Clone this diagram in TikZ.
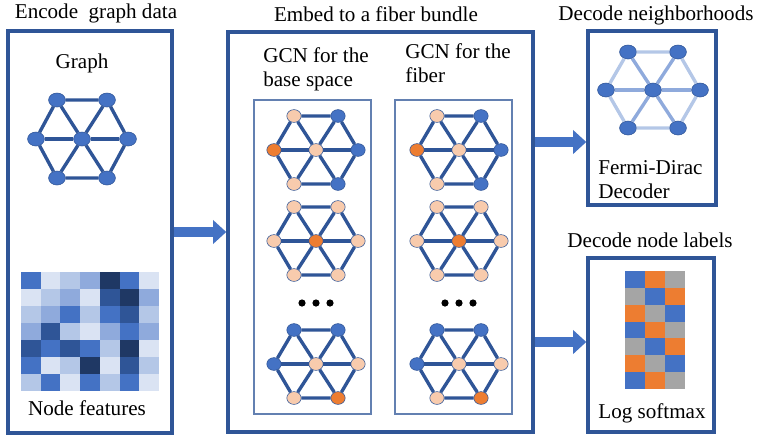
\documentclass[tikz,border=0pt]{standalone}
\usepackage{fontspec}
\setmainfont{Liberation Serif}
\usepackage{tikz}
\usetikzlibrary{shapes.geometric, arrows.meta}
\definecolor{frameblue}{HTML}{2F5597}
\definecolor{nodeblue}{HTML}{4472C4}
\definecolor{peach}{HTML}{F8CBAD}
\definecolor{nodeorange}{HTML}{ED7D31}
\definecolor{labgray}{HTML}{A5A5A5}
\definecolor{hA}{HTML}{DAE3F3}
\definecolor{hB}{HTML}{B4C7E7}
\definecolor{hC}{HTML}{8FAADC}
\definecolor{hD}{HTML}{4472C4}
\definecolor{hE}{HTML}{2F5597}
\definecolor{hF}{HTML}{1F3864}

\begin{document}
\begin{tikzpicture}[
    x=0.025cm, y=-0.025cm,
    every node/.style={font=\fontsize{15}{17}\selectfont},
    panel/.style={draw=frameblue, line width=2.4pt},
    subpanel/.style={draw=frameblue!75, line width=0.8pt},
    gnode/.style={ellipse, draw=frameblue, line width=0.4pt, inner sep=0, minimum width=0.36cm, minimum height=0.32cm},
    bignode/.style={gnode, fill=nodeblue, minimum width=0.42cm, minimum height=0.35cm},
    gedge/.style={draw=frameblue, line width=2.4pt},
    fdedge/.style={line width=2.4pt},
    bigarrow/.style={nodeblue, line width=0.25cm, -{Triangle[length=0.33cm, width=0.58cm]}},
    caption/.style={inner sep=0, align=left, anchor=north west}
]
    \useasboundingbox (0,0) rectangle (758,437);

    % Encode panel (left)
    \node[panel, minimum width=4.1cm, minimum height=10.05cm] (enc) at (90,232) {};
    \node (enctitle) at (96,13) {Encode\ \ graph data};
    \node (graphlbl) at (82,63) {Graph};
    \node[bignode] (in-tl) at (57,100) {};
    \node[bignode] (in-tr) at (107,100) {};
    \node[bignode] (in-l) at (36,139) {};
    \node[bignode] (in-c) at (82,139) {};
    \node[bignode] (in-r) at (128,139) {};
    \node[bignode] (in-bl) at (57,178) {};
    \node[bignode] (in-br) at (107,178) {};
    \draw[gedge] (in-tl) -- (in-tr) -- (in-r) -- (in-br) -- (in-bl) -- (in-l) -- (in-tl);
    \draw[gedge] (in-l) -- (in-c) -- (in-r);
    \draw[gedge] (in-tl) -- (in-c) -- (in-br);
    \draw[gedge] (in-tr) -- (in-c) -- (in-bl);

    % feature matrix
    \foreach \row [count=\j from 0] in {
        {hD,hA,hB,hC,hF,hD,hA},
        {hA,hB,hC,hA,hE,hF,hC},
        {hB,hC,hD,hB,hD,hE,hB},
        {hC,hE,hB,hA,hC,hD,hC},
        {hE,hD,hE,hD,hB,hF,hA},
        {hD,hA,hB,hF,hA,hE,hB},
        {hB,hD,hA,hD,hB,hD,hA}}
        \foreach \c [count=\i from 0] in \row
            \fill[\c] (21+\i*19.71,272+\j*17) rectangle +(19.9,17.3);
    \node (featlbl) at (87,408) {Node features};

    % Embed panel (middle)
    \node[panel, minimum width=7.625cm, minimum height=10cm] (emb) at (380.5,232) {};
    \node (embtitle) at (376,14) {Embed to a fiber bundle};
    \node[caption] (baselbl) at (263,47) {GCN for the\\base space};
    \node[caption] (fiberlbl) at (405,43) {GCN for the\\fiber};
    \node[subpanel, minimum width=2.925cm, minimum height=7.85cm] (basebox) at (312.5,257) {};
    \node[subpanel, minimum width=2.925cm, minimum height=7.85cm] (fiberbox) at (453.5,257) {};

    \foreach \g/\cx/\cy/\ctl/\ctr/\cl/\cc/\cr/\cbl/\cbr in {
        b1/316/150/peach/nodeblue/nodeorange/peach/nodeblue/peach/nodeblue,
        b2/316/241/peach/peach/peach/nodeorange/peach/peach/peach,
        b3/316/364/nodeblue/nodeblue/nodeblue/peach/peach/peach/nodeorange,
        f1/459/150/peach/nodeblue/nodeorange/peach/nodeblue/peach/nodeblue,
        f2/459/241/peach/peach/peach/nodeorange/peach/peach/peach,
        f3/459/364/nodeblue/nodeblue/nodeblue/peach/peach/peach/nodeorange}{
        \node[gnode, fill=\ctl] (\g-tl) at (\cx-22,\cy-34) {};
        \node[gnode, fill=\ctr] (\g-tr) at (\cx+22,\cy-34) {};
        \node[gnode, fill=\cl] (\g-l) at (\cx-42,\cy) {};
        \node[gnode, fill=\cc] (\g-c) at (\cx,\cy) {};
        \node[gnode, fill=\cr] (\g-r) at (\cx+42,\cy) {};
        \node[gnode, fill=\cbl] (\g-bl) at (\cx-22,\cy+34) {};
        \node[gnode, fill=\cbr] (\g-br) at (\cx+22,\cy+34) {};
        \draw[gedge] (\g-tl) -- (\g-tr) -- (\g-r) -- (\g-br) -- (\g-bl) -- (\g-l) -- (\g-tl);
        \draw[gedge] (\g-l) -- (\g-c) -- (\g-r);
        \draw[gedge] (\g-tl) -- (\g-c) -- (\g-br);
        \draw[gedge] (\g-tr) -- (\g-c) -- (\g-bl);
    }

    % Dots
    \foreach \x in {-14,0,14} {
        \fill (316+\x,303) circle[radius=3.6];
        \fill (459+\x,303) circle[radius=3.6];
    }

    % Decode neighborhoods (top right)
    \node[panel, minimum width=3.2cm, minimum height=4.35cm] (neigh) at (652,118) {};
    \node (neightitle) at (656,15) {Decode neighborhoods};
    \node[bignode] (fd-tl) at (628,52) {};
    \node[bignode] (fd-tr) at (678,52) {};
    \node[bignode] (fd-l) at (606,90) {};
    \node[bignode] (fd-c) at (653,90) {};
    \node[bignode] (fd-r) at (700,90) {};
    \node[bignode] (fd-bl) at (628,128) {};
    \node[bignode] (fd-br) at (678,128) {};
    \draw[fdedge, hB] (fd-tl) -- (fd-tr) -- (fd-r) -- (fd-br) -- (fd-bl) -- (fd-l) -- (fd-tl);
    \draw[fdedge, hC] (fd-l) -- (fd-c) -- (fd-r);
    \draw[fdedge, hC] (fd-tl) -- (fd-c) -- (fd-br);
    \draw[fdedge, hC] (fd-tr) -- (fd-c) -- (fd-bl);
    \node[caption] (fdlbl) at (598,160) {Fermi-Dirac\\Decoder};

    % Decode node labels (bottom right)
    \node[panel, minimum width=3.15cm, minimum height=4.35cm] (lab) at (651,345) {};
    \node (labtitle) at (650,240) {Decode node labels};
    \foreach \row [count=\j from 0] in {
        {nodeblue,nodeorange,labgray},
        {labgray,nodeblue,nodeorange},
        {nodeorange,labgray,nodeblue},
        {nodeblue,nodeorange,labgray},
        {labgray,nodeblue,nodeorange},
        {nodeorange,labgray,nodeblue},
        {nodeblue,nodeorange,labgray}}
        \foreach \c [count=\i from 0] in \row
            \fill[\c] (625+\i*20,271+\j*16.86) rectangle +(20.2,17.1);
    \node (smaxlbl) at (652,413) {Log softmax};

    % Arrows between panels
    \coordinate (toneigh) at (560,142);
    \coordinate (tolab) at (560,342);
    \draw[bigarrow] (enc) -- (emb);
    \draw[bigarrow] (emb.east |- toneigh) -- (neigh.west |- toneigh);
    \draw[bigarrow] (emb.east |- tolab) -- (lab.west |- tolab);
\end{tikzpicture}
\end{document}
